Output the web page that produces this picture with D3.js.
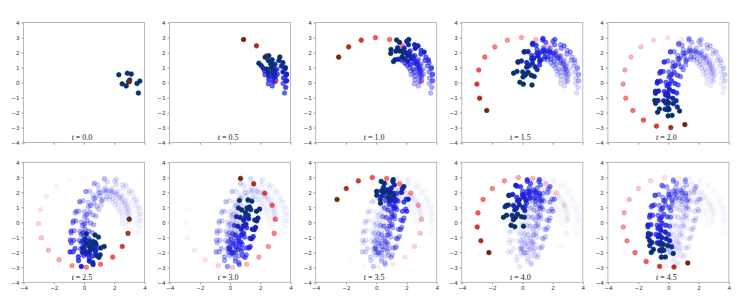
<!DOCTYPE html>
<html>
<head>
<meta charset="utf-8">
<script src="https://cdn.jsdelivr.net/npm/d3@7"></script>
<style>
  body { margin: 0; background: #fff; }
  svg { display: block; }
</style>
</head>
<body>
<svg id="chart" width="748" height="303"></svg>
<script>
// panel titles (t), one panel every 4 solver steps (dt = 0.125)
const panelTimes = [0.0, 0.5, 1.0, 1.5, 2.0, 2.5, 3.0, 3.5, 4.0, 4.5];
const stepsPerPanel = 4;

const xTicks = [-4, -2, 0, 2, 4];
const yTicks = [-4, -3, -2, -1, 0, 1, 2, 3, 4];

// centre of the particle cloud at every step
const cloudCentre = [
    [3.04, 0.10], [3.05, 0.42], [3.00, 0.75], [2.90, 1.06], [2.75, 1.35],
    [2.50, 1.70], [2.20, 1.97], [1.85, 2.12], [1.45, 2.20],
    [1.05, 2.02], [0.65, 1.65], [0.30, 1.10], [0.05, 0.45],
    [-0.10, -0.15], [-0.20, -0.75], [-0.20, -1.30], [-0.10, -1.75],
    [0.05, -2.05], [0.30, -2.10], [0.50, -1.85], [0.72, -1.40],
    [0.90, -0.80], [1.05, -0.20], [1.20, 0.40], [1.30, 0.95],
    [1.35, 1.45], [1.20, 1.85], [0.90, 2.10], [0.50, 2.10],
    [0.05, 1.90], [-0.30, 1.50], [-0.50, 0.90], [-0.60, 0.25],
    [-0.70, -0.35], [-0.70, -0.90], [-0.60, -1.40], [-0.50, -1.85]
];

// each particle's place in the cloud: [across, along] the direction of travel (from t = 0)
const cloudOffsets = [
    [-0.75, 0.40], [-0.19, 0.52], [0.07, 0.47], [-0.51, -0.20], [-0.24, -0.33],
    [-0.02, 0.07], [0.47, -0.15], [0.65, 0.02], [0.58, -0.78], [-0.09, -0.05]
];

// the reference trajectory (red / brown), one point per step
const refTrack = [
    [3.00, 0.08], [2.85, 0.94], [2.41, 1.78], [1.74, 2.45], [0.89, 2.87],
    [-0.05, 3.00], [-0.99, 2.83], [-1.82, 2.38], [-2.48, 1.70],
    [-2.88, 0.84], [-3.00, -0.10], [-2.82, -1.04], [-2.35, -1.86],
    [-1.65, -2.50], [-0.79, -2.90], [0.16, -3.00], [1.09, -2.80],
    [1.90, -2.32], [2.53, -1.61], [2.91, -0.74], [2.99, 0.21],
    [2.78, 1.13], [2.29, 1.94], [1.56, 2.56], [0.69, 2.92],
    [-0.26, 2.99], [-1.18, 2.76], [-1.98, 2.25], [-2.59, 1.52],
    [-2.93, 0.63], [-2.98, -0.31], [-2.74, -1.23], [-2.21, -2.02],
    [-1.47, -2.61], [-0.58, -2.94], [0.37, -2.98], [1.28, -2.71]
];

const navy = "#08306b", blue = "#2020e8";
const brown = "#6b2a0a", red = "#f03c3c";

const panelW = 121, panelH = 120;
const colLeft = [23.5, 169.6, 315.7, 461.8, 607.9];
const rowTop = [22.6, 162.3];
const dotR = 2.3;

const svg = d3.select("#chart");

const fmt = d => d < 0 ? "\u2212" + Math.abs(d) : String(d);

function particleAt(k, p) {
    const c = cloudCentre[k];
    const a = cloudCentre[Math.max(0, k - 1)];
    const b = cloudCentre[Math.min(cloudCentre.length - 1, k + 1)];
    let tx = b[0] - a[0], ty = b[1] - a[1];
    const n = Math.hypot(tx, ty) || 1;
    tx /= n; ty /= n;
    const [across, along] = cloudOffsets[p];
    return [c[0] + across * ty + along * tx, c[1] - across * tx + along * ty];
}

function blueColour(age) {
    const w = age === 0 ? 1 : age === 1 ? 0.6 : age === 2 ? 0.3 : 0;
    return d3.interpolateRgb(blue, navy)(w);
}
function blueAlpha(age) {
    return age <= 2 ? 1 : 0.02 + 0.98 * Math.exp(-(age - 2) / 5);
}
function redColour(age) {
    const w = age === 0 ? 1 : age === 1 ? 0.55 : age === 2 ? 0.2 : 0;
    return d3.interpolateRgb(red, brown)(w);
}
function redAlpha(age) {
    if (age <= 2) return 1;
    return Math.pow(Math.max(0, 1 - (age - 2) / 15), 2);
}

panelTimes.forEach((t, i) => {
    const col = i % 5, row = Math.floor(i / 5);
    const K = i * stepsPerPanel;

    const x = d3.scaleLinear().domain([-4, 4]).range([0, panelW]);
    const y = d3.scaleLinear().domain([-4, 4]).range([panelH, 0]);

    const g = svg.append("g")
        .attr("transform", `translate(${colLeft[col]},${rowTop[row]})`);

    g.append("clipPath").attr("id", "clip" + i)
        .append("rect").attr("width", panelW).attr("height", panelH);

    // build marks in drawing order: step by step, cloud then reference point
    const marks = [];
    for (let k = 0; k <= K; k++) {
        const age = K - k;
        cloudOffsets.forEach((o, p) => {
            const pos = particleAt(k, p);
            marks.push({ x: pos[0], y: pos[1], c: blueColour(age), a: blueAlpha(age) });
        });
        const r = refTrack[k];
        const ra = redAlpha(age);
        if (ra > 0.005) marks.push({ x: r[0], y: r[1], c: redColour(age), a: ra });
    }

    g.append("g").attr("clip-path", `url(#clip${i})`)
        .selectAll("circle")
        .data(marks)
        .join("circle")
        .attr("cx", d => x(d.x))
        .attr("cy", d => y(d.y))
        .attr("r", dotR)
        .attr("fill", d => d.c)
        .attr("fill-opacity", d => d.a)
        .attr("stroke", d => d.c)
        .attr("stroke-opacity", d => d.a)
        .attr("stroke-width", 0.7);

    // axes
    const yAxis = g.append("g")
        .call(d3.axisLeft(y).tickValues(yTicks).tickSize(2).tickPadding(2).tickFormat(fmt));
    const xAxis = g.append("g")
        .attr("transform", `translate(0,${panelH})`)
        .call(d3.axisBottom(x).tickValues(xTicks).tickSize(2).tickPadding(2)
            .tickFormat(row === 1 ? fmt : () => ""));
    [yAxis, xAxis].forEach(ax => {
        ax.select(".domain").remove();
        ax.selectAll("line").attr("stroke", "#555").attr("stroke-width", 0.6);
        ax.selectAll("text").attr("fill", "#333")
            .attr("font-family", "DejaVu Sans, sans-serif").attr("font-size", 5.6);
    });

    // frame
    g.append("rect")
        .attr("width", panelW).attr("height", panelH)
        .attr("fill", "none").attr("stroke", "#a8a8a8").attr("stroke-width", 0.8);

    // title inside the axes, just above the bottom spine
    const title = g.append("text")
        .attr("x", panelW / 2 - 2)
        .attr("y", panelH - 2.5)
        .attr("text-anchor", "middle")
        .attr("font-family", "Liberation Serif, DejaVu Serif, serif")
        .attr("font-size", 8)
        .attr("fill", "#222");
    title.append("tspan").attr("font-style", "italic").text("t");
    title.append("tspan").text(" = " + t.toFixed(1));
});
</script>
</body>
</html>
